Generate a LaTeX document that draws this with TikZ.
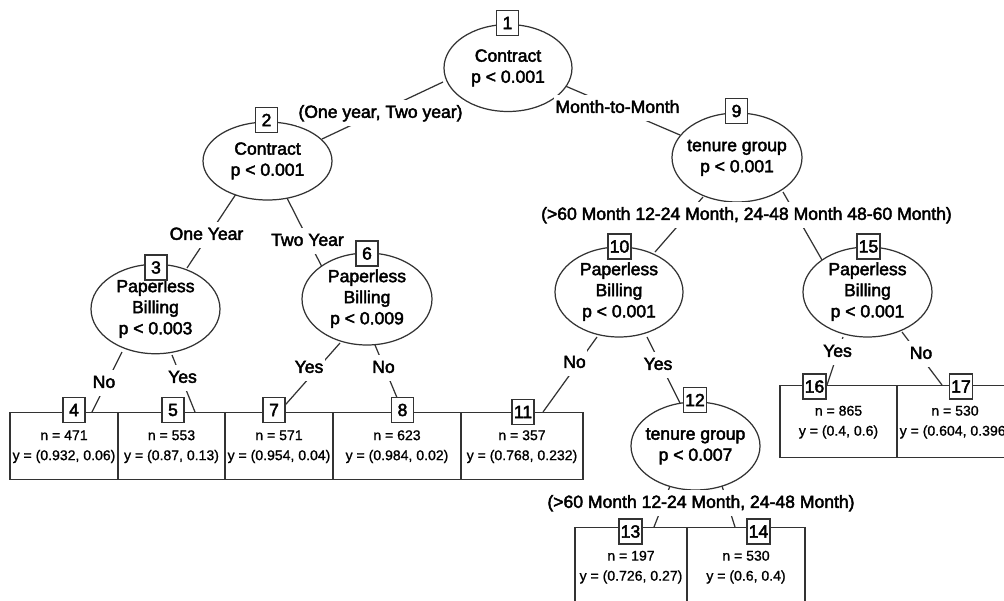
\documentclass[tikz,border=0pt]{standalone}
\usepackage{fontspec}
\setmainfont{Liberation Sans}
\newfontfamily\heavyfont{Liberation Sans}[FakeBold=2.5]
\newfontfamily\leaffont{Liberation Sans}[FakeBold=1]
\usetikzlibrary{shapes.geometric}
\pgfdeclarelayer{background}
\pgfsetlayers{background,main}
\newcommand{\ctext}[1]{\makebox[0pt]{\begin{tabular}{@{}c@{}}#1\end{tabular}}}
\begin{document}
\begin{tikzpicture}[x=0.02cm,y=-0.02cm,
  every node/.style={font=\heavyfont\fontsize{10}{12}\selectfont, text=black},
  ln/.style={draw=black!80, line width=0.7pt},
  inner/.style={ellipse, draw=black!80, line width=0.7pt, fill=white, inner sep=0pt},
  numbox/.style={rectangle, draw=black!80, line width=0.7pt, fill=white, minimum width=0.44cm, minimum height=0.5cm, inner xsep=1pt, inner ysep=0pt},
  leaf/.style={rectangle, draw=black!80, line width=0.7pt, fill=white, anchor=north, inner sep=0pt, font=\leaffont\fontsize{8}{11.4}\selectfont},
  elab/.style={fill=white, inner xsep=1pt, inner ysep=2.5pt, text height=7.5pt, text depth=2pt}
]
\useasboundingbox (0,0) rectangle (1004,600);
\clip (0,0) rectangle (1004,600);

% inner nodes
\node[inner, minimum width=2.56cm, minimum height=1.74cm] (n1) at (508,68) {\ctext{Contract\\p < 0.001}};
\node[inner, minimum width=2.58cm, minimum height=1.56cm] (n2) at (267.5,161) {\ctext{Contract\\p < 0.001}};
\node[inner, minimum width=2.6cm, minimum height=1.78cm] (n9) at (737,157.5) {\ctext{tenure group\\p < 0.001}};
\node[inner, minimum width=2.58cm, minimum height=1.76cm] (n3) at (155.5,309) {\ctext{Paperless\\Billing\\p < 0.003}};
\node[inner, minimum width=2.6cm, minimum height=1.84cm] (n6) at (367,299) {\ctext{Paperless\\Billing\\p < 0.009}};
\node[inner, minimum width=2.56cm, minimum height=1.8cm] (n10) at (619,292) {\ctext{Paperless\\Billing\\p < 0.001}};
\node[inner, minimum width=2.58cm, minimum height=1.8cm] (n15) at (867.5,292) {\ctext{Paperless\\Billing\\p < 0.001}};
\node[inner, minimum width=2.58cm, minimum height=1.76cm] (n12) at (695.5,446) {\ctext{tenure group\\p < 0.007}};

% leaves
\node[leaf, minimum width=2.16cm, minimum height=1.34cm] (L4) at (64,412) {\ctext{n = 471\\y = (0.932, 0.06)}};
\node[leaf, minimum width=2.14cm, minimum height=1.34cm] (L5) at (171.5,412) {\ctext{n = 553\\y = (0.87, 0.13)}};
\node[leaf, minimum width=2.16cm, minimum height=1.34cm] (L7) at (279,412) {\ctext{n = 571\\y = (0.954, 0.04)}};
\node[leaf, minimum width=2.56cm, minimum height=1.34cm] (L8) at (397,412) {\ctext{n = 623\\y = (0.984, 0.02)}};
\node[leaf, minimum width=2.44cm, minimum height=1.34cm] (L11) at (522,412) {\ctext{n = 357\\y = (0.768, 0.232)}};
\node[leaf, minimum width=2.34cm, minimum height=1.44cm] (L16) at (838.5,385) {\ctext{n = 865\\y = (0.4, 0.6)}};
\node[leaf, minimum width=2.32cm, minimum height=1.44cm] (L17) at (955,385) {\ctext{n = 530\\y = (0.604, 0.396)}};
\node[leaf, minimum width=2.24cm, minimum height=1.56cm] (L13) at (631,527) {\ctext{n = 197\\y = (0.726, 0.27)}};
\node[leaf, minimum width=2.36cm, minimum height=1.56cm] (L14) at (746,527) {\ctext{n = 530\\y = (0.6, 0.4)}};

% number boxes
\node[numbox] (b1) at (507.5,23) {1};
\node[numbox] (b2) at (266.5,120) {2};
\node[numbox] (b9) at (736.5,111) {9};
\node[numbox] (b3) at (156,267.5) {3};
\node[numbox] (b6) at (367,253.5) {6};
\node[numbox] (b10) at (619.5,246.5) {10};
\node[numbox] (b15) at (868.5,246.5) {15};
\node[numbox] (b12) at (695,400) {12};
\node[numbox] (b4) at (74,410) {4};
\node[numbox] (b5) at (173,410) {5};
\node[numbox] (b7) at (274,410) {7};
\node[numbox] (b8) at (402.5,410) {8};
\node[numbox] (b11) at (523,412) {11};
\node[numbox] (b16) at (814.5,386.5) {16};
\node[numbox] (b17) at (961,386.5) {17};
\node[numbox] (b13) at (630.5,531.5) {13};
\node[numbox] (b14) at (758.5,531.5) {14};

% edge labels
\node[elab] (e2) at (380.5,113) {(One year, Two year)};
\node[elab] (e9) at (617.5,108) {Month-to-Month};
\node[elab] (e3) at (206.5,235) {One Year};
\node[elab] (e6) at (307.5,241) {Two Year};
\node[elab] (e10) at (746.5,215) {(>60 Month 12-24 Month, 24-48 Month 48-60 Month)};
\node[elab] (e4) at (104,383) {No};
\node[elab] (e5) at (182.5,378) {Yes};
\node[elab] (e7) at (309,368) {Yes};
\node[elab] (e8) at (383.5,368) {No};
\node[elab] (e11) at (574.5,363) {No};
\node[elab] (e12) at (658,365) {Yes};
\node[elab] (e16) at (837.5,352) {Yes};
\node[elab] (e17) at (921,354) {No};
\node[elab] (e13) at (701,503) {(>60 Month 12-24 Month, 24-48 Month)};

\begin{pgfonlayer}{background}
\fill[white] (0,0) rectangle (1004,600);
\draw[ln] ([shift={(-65,14)}]n1.center) -- ([shift={(54.5,-22)}]n2.center);
\draw[ln] ([shift={(55,17)}]n1.center) -- ([shift={(-57,-22.5)}]n9.center);
\draw[ln] ([shift={(-31.5,33)}]n2.center) -- ([shift={(31.5,-41)}]n3.center);
\draw[ln] ([shift={(19.5,37)}]n2.center) -- ([shift={(-45,-32)}]n6.center);
\draw[ln] ([shift={(-34,39.5)}]n9.center) -- ([shift={(36,-40)}]n10.center);
\draw[ln] ([shift={(46,34.5)}]n9.center) -- ([shift={(-45.5,-32)}]n15.center);
\draw[ln] ([shift={(-33.5,43)}]n3.center) -- ([shift={(28,0)}]L4.north);
\draw[ln] ([shift={(16.5,46)}]n3.center) -- ([shift={(23.5,0)}]L5.north);
\draw[ln] ([shift={(-27,44)}]n6.center) -- (L7.north);
\draw[ln] ([shift={(8,46)}]n6.center) -- ([shift={(6,0)}]L8.north);
\draw[ln] ([shift={(-22,45)}]n10.center) -- ([shift={(21,0)}]L11.north);
\draw[ln] ([shift={(28,45)}]n10.center) -- ([shift={(-15.5,-43)}]n12.center);
\draw[ln] ([shift={(-24.5,45)}]n15.center) -- ([shift={(-11.5,0)}]L16.north);
\draw[ln] ([shift={(34.5,40)}]n15.center) -- ([shift={(-13,0)}]L17.north);
\draw[ln] ([shift={(-25.5,40)}]n12.center) -- ([shift={(23,0)}]L13.north);
\draw[ln] ([shift={(26.5,40)}]n12.center) -- ([shift={(-11,0)}]L14.north);
\end{pgfonlayer}
\end{tikzpicture}
\end{document}
